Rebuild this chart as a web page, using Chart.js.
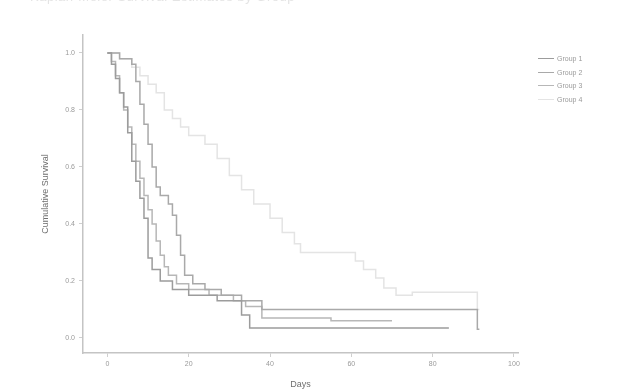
<!DOCTYPE html>
<html><head><meta charset="utf-8">
<script src="https://cdn.jsdelivr.net/npm/chart.js@4.4.1/dist/chart.umd.min.js"></script>
<style>
html,body{margin:0;padding:0;background:#fff;}
#wrap{position:relative;width:644px;height:390px;overflow:hidden;font-family:"Liberation Sans",Arial,sans-serif;}
#title{position:absolute;left:30px;top:-11px;font-size:13px;color:#e4e4e4;white-space:nowrap;letter-spacing:0.5px;}
#legend{position:absolute;left:538px;top:52px;font-size:7px;color:#9a9a9a;line-height:13.5px;}
#legend div{display:flex;align-items:center;}
#legend span.l{display:inline-block;width:16px;height:0;border-top:1.5px solid #aaa;margin-right:3px;}
</style></head>
<body><div id="wrap">
<div id="title">Kaplan-Meier Survival Estimates by Group</div>
<canvas id="c" width="644" height="390"></canvas>
<div id="legend"></div>
</div>
<script>
const groupNames = ["Group 1","Group 2","Group 3","Group 4"];
const xTicks = [0,20,40,60,80,100];
const yTicks = [0,0.2,0.4,0.6,0.8,1.0];
const timesA = [0,1,2,3,4,5,6,7,8,9,10,11,13,16,20,27,33,35,84];
const survA  = [1.0,0.96,0.91,0.86,0.81,0.72,0.62,0.55,0.49,0.42,0.28,0.24,0.20,0.17,0.15,0.13,0.08,0.035,0.035];
const timesB = [0,3,6,7,8,9,10,11,12,13,15,16,17,18,19,21,24,28,33,38,91,91.5];
const survB  = [1.0,0.98,0.96,0.90,0.82,0.75,0.68,0.60,0.53,0.50,0.47,0.43,0.36,0.29,0.22,0.19,0.17,0.15,0.13,0.10,0.03,0.03];
const timesC = [0,1,2,3,4,5,6,7,8,9,10,11,12,13,14,15,17,20,25,31,34,38,55,70];
const survC  = [1.0,0.97,0.92,0.86,0.80,0.74,0.68,0.62,0.56,0.50,0.45,0.40,0.34,0.29,0.25,0.22,0.19,0.17,0.15,0.13,0.11,0.07,0.06,0.06];
const timesD = [0,3,6,8,10,12,14,16,18,20,24,27,30,33,36,40,43,46,47.5,61,63,66,68,71,75,91,91.5];
const survD  = [1.0,0.98,0.95,0.92,0.89,0.86,0.80,0.77,0.74,0.71,0.68,0.63,0.57,0.52,0.47,0.42,0.37,0.33,0.30,0.27,0.24,0.21,0.175,0.15,0.16,0.10,0.10];
const colors = ["#9c9c9c","#a9a9a9","#b7b7b7","#e4e4e4"];

const series = [[timesA,survA],[timesB,survB],[timesC,survC],[timesD,survD]];
const datasets = series.map((s,i)=>({
  label: groupNames[i],
  data: s[0].map((t,k)=>({x:t,y:s[1][k]})),
  borderColor: colors[i], borderWidth: 1.5, pointRadius: 0, stepped: true, fill:false
}));

const lg = document.getElementById('legend');
groupNames.forEach((n,i)=>{
  const d=document.createElement('div');
  d.innerHTML='<span class="l" style="border-top-color:'+colors[i]+'"></span>'+n;
  lg.appendChild(d);
});

const tickFont = {family:"Liberation Sans", size:7};
new Chart(document.getElementById('c'), {
  type:'line',
  data:{datasets},
  options:{
    responsive:false, animation:false,
    layout:{padding:{top:35,right:126,bottom:0,left:40}},
    plugins:{legend:{display:false}, tooltip:{enabled:false}},
    scales:{
      x:{type:'linear', min:-6, max:101,
        afterBuildTicks:(s)=>{s.ticks = xTicks.map(v=>({value:v}));},
        afterFit:(s)=>{s.height=37;},
        grid:{drawOnChartArea:false, drawTicks:true, tickLength:4, color:'#cfcfcf'},
        border:{color:'#c4c4c4', width:1.5},
        ticks:{color:'#9a9a9a', font:tickFont, padding:3, maxRotation:0},
        title:{display:true, text:'Days', color:'#6f6f6f', font:{family:"Liberation Sans", size:9}, padding:{top:1,bottom:0}}
      },
      y:{type:'linear', min:-0.053, max:1.063,
        afterBuildTicks:(s)=>{s.ticks = yTicks.map(v=>({value:v}));},
        afterFit:(s)=>{s.width=43;},
        grid:{drawOnChartArea:false, drawTicks:true, tickLength:4, color:'#cfcfcf'},
        border:{color:'#c4c4c4', width:1.5},
        ticks:{color:'#9a9a9a', font:tickFont, padding:4, callback:(v)=>Number(v).toFixed(1)},
        title:{display:true, text:'Cumulative Survival', color:'#6f6f6f', font:{family:"Liberation Sans", size:9}, padding:{top:0,bottom:4}}
      }
    }
  }
});
</script>
</body></html>
